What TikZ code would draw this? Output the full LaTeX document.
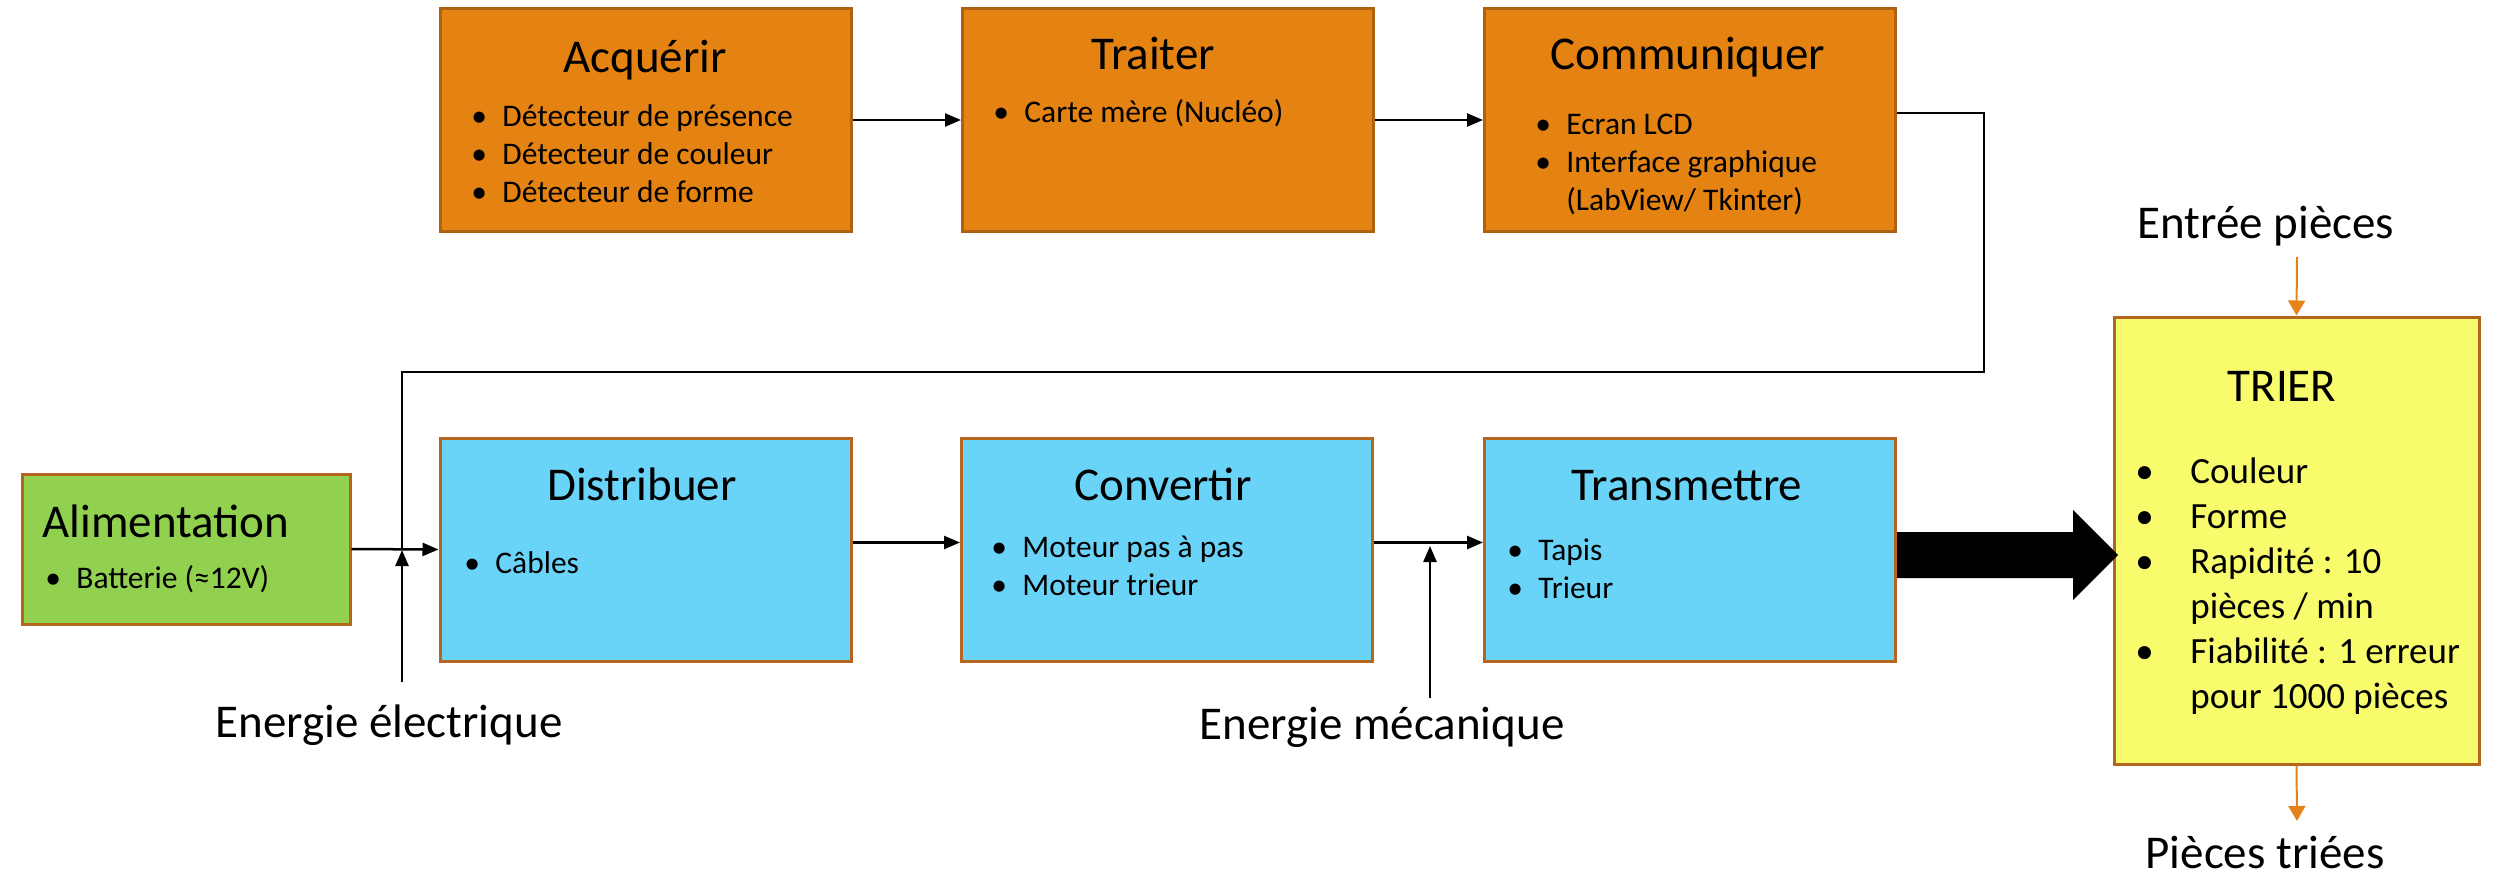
\documentclass[tikz,border=0pt]{standalone}
\usepackage{fontspec}
\setmainfont{Carlito}
\usetikzlibrary{arrows.meta}

\definecolor{acqfill}{HTML}{E48312}
\definecolor{acqline}{HTML}{AE6210}
\definecolor{opfill}{HTML}{6AD4F8}
\definecolor{alimfill}{HTML}{92D050}
\definecolor{trierfill}{HTML}{F8FC6C}
\definecolor{boxline}{HTML}{B4651E}
\definecolor{floworange}{HTML}{E6821A}

\tikzset{
  block/.style={draw=boxline, line width=1.5pt, inner sep=0pt,
    minimum width=205.5pt, minimum height=111.5pt},
  infoblock/.style={block, fill=acqfill, draw=acqline},
  opblock/.style={block, fill=opfill},
  title/.style={font=\fontsize{23.5}{28}\selectfont, anchor=base, inner sep=0pt},
  items/.style={font=\fontsize{15.75}{19}\selectfont, anchor=base west, inner sep=0pt},
  bigitems/.style={font=\fontsize{18.5}{22.5}\selectfont, anchor=base west, inner sep=0pt},
  conn/.style={line width=1.25pt, -{Triangle[length=8pt,width=6.5pt]}},
  wire/.style={line width=1.25pt},
  flow/.style={floworange, line width=1pt, -{Triangle[length=7.5pt,width=8.5pt]}}
}
\newcommand{\bul}[1][15.5pt]{\makebox[#1][l]{•}}

\begin{document}
\begin{tikzpicture}[x=0.5pt, y=-0.5pt]
  \useasboundingbox (0,0) rectangle (2496,874);

  % chaine d'information
  \node[infoblock] (acq)   at (645.5,120) {};
  \node[infoblock] (trait) at (1168,120)  {};
  \node[infoblock] (comm)  at (1690,120)  {};
  \node[title] (tacq)   at (645,72)  {Acquérir};
  \node[title] (ttrait) at (1153,69) {Traiter};
  \node[title] (tcomm)  at (1688,69) {Communiquer};
  \node[items] (lacq) at (471,126) {\begin{tabular}[t]{@{}l@{}}
      \bul Détecteur de présence\\ \bul Détecteur de couleur\\ \bul Détecteur de forme
    \end{tabular}};
  \node[items] (ltrait) at (993,122) {\begin{tabular}[t]{@{}l@{}}
      \bul Carte mère (Nucléo)
    \end{tabular}};
  \node[items] (lcomm) at (1535,134) {\begin{tabular}[t]{@{}l@{}}
      \bul Ecran LCD\\ \bul Interface graphique\\ \hspace*{15.5pt}(LabView/ Tkinter)
    \end{tabular}};

  % chaine d'energie
  \node[block, fill=alimfill, minimum width=164pt, minimum height=75pt] (alim) at (186,549) {};
  \node[opblock] (dist)  at (645.5,549.5) {};
  \node[opblock] (conv)  at (1167,549.5)  {};
  \node[opblock] (trans) at (1690,549.5)  {};
  \node[title, anchor=base west] (talim) at (42,537) {Alimentation};
  \node[title] (tdist)  at (642,500)  {Distribuer};
  \node[title] (tconv)  at (1163,500) {Convertir};
  \node[title] (ttrans) at (1687,500) {Transmettre};
  \node[items] (lalim) at (45,588) {\begin{tabular}[t]{@{}l@{}}
      \bul Batterie (≈12V)
    \end{tabular}};
  \node[items] (ldist) at (464,573) {\begin{tabular}[t]{@{}l@{}}
      \bul Câbles
    \end{tabular}};
  \node[items] (lconv) at (991,557) {\begin{tabular}[t]{@{}l@{}}
      \bul Moteur pas à pas\\ \bul Moteur trieur
    \end{tabular}};
  \node[items] (ltrans) at (1507,560) {\begin{tabular}[t]{@{}l@{}}
      \bul Tapis\\ \bul Trieur
    \end{tabular}};

  % fonction globale
  \node[block, fill=trierfill, minimum width=182.5pt, minimum height=223.5pt] (trier) at (2296.5,540.5) {};
  \node[title] (ttrier) at (2282,401) {TRIER};
  \node[bigitems] (ltrier) at (2135,483) {\begin{tabular}[t]{@{}l@{}}
      \bul[27.5pt]Couleur\\ \bul[27.5pt]Forme\\ \bul[27.5pt]Rapidité : 10\\
      \hspace*{27.5pt}pièces / min\\ \bul[27.5pt]Fiabilité : 1 erreur\\
      \hspace*{27.5pt}pour 1000 pièces
    \end{tabular}};

  % textes libres
  \node[title] (eelec)   at (389,737)  {Energie électrique};
  \node[title] (emeca)   at (1382,739) {Energie mécanique};
  \node[title] (entree)  at (2266,238) {Entrée pièces};
  \node[title] (sortie)  at (2265,868) {Pièces triées};

  \coordinate (jelec) at (402,550);
  \coordinate (elec)  at (402,682);
  \coordinate (jmeca) at (1430,546);
  \coordinate (meca)  at (1430,698);
  \coordinate (fb)    at (1984,372);
  \coordinate (inp)   at (2297,257);
  \coordinate (outp)  at (2297,821);

  % liaisons
  \foreach \a/\b in {acq/trait, trait/comm}
    \draw[conn] (\a) -- (\b);
  \draw[conn] (alim.east) -- (dist.west);
  \foreach \a/\b in {dist/conv, conv/trans}
    \draw[conn] ([yshift=3.5pt]\a.east) -- ([yshift=3.5pt]\b.west);
  \draw[wire] ([yshift=3.5pt]comm.east) -| (fb) -| (jelec); % retour information
  \draw[conn] (elec) -- (jelec);
  \draw[conn] (meca) -- (jmeca);
  \draw[flow] (inp) -- (trier.north);
  \draw[flow] (trier.south) -- (outp);

  % grosse fleche vers TRIER
  \fill ([yshift=-2.75pt]trans.east) ++(0,-23) -- ++(176,0) -- ++(0,-22) -- ++(45,45)
    -- ++(-45,45) -- ++(0,-22) -- ++(-176,0) -- cycle;
\end{tikzpicture}
\end{document}
